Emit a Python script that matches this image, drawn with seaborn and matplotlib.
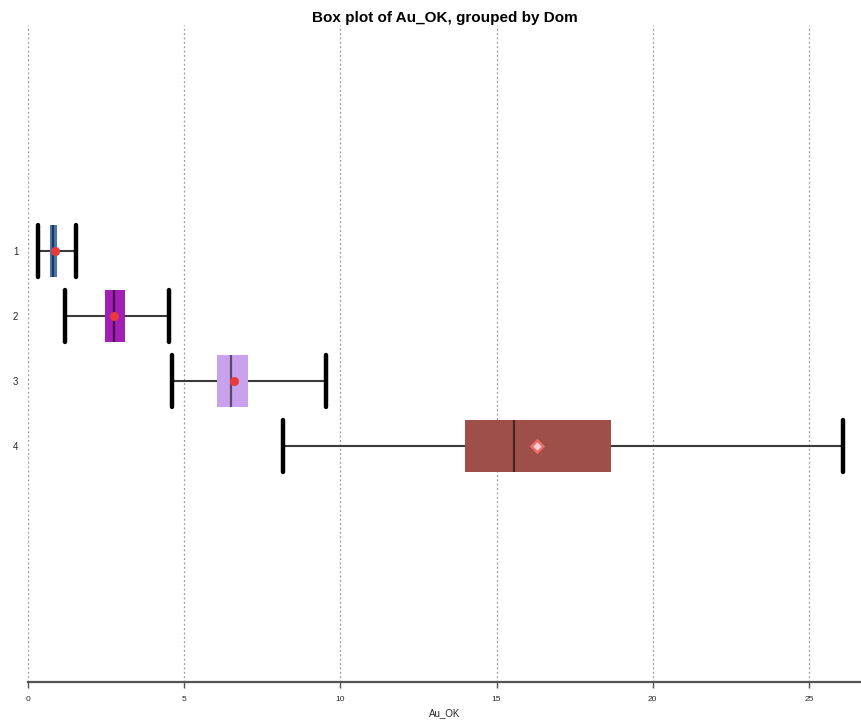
import numpy as np
import pandas as pd
import matplotlib
matplotlib.use("Agg")
import matplotlib.pyplot as plt
import seaborn as sns

# Five-number summaries per domain: lower whisker, Q1, median, Q3, upper whisker
domains = ["1", "2", "3", "4"]
dom1 = [0.33, 0.69, 0.80, 0.92, 1.53]
dom2 = [1.18, 2.47, 2.76, 3.12, 4.50]
dom3 = [4.62, 6.04, 6.50, 7.04, 9.55]
dom4 = [8.15, 13.98, 15.55, 18.67, 26.08]
means = [0.85, 2.76, 6.60, 16.31]

box_colors = ["#4a78b4", "#a21eb4", "#c9a2ee", "#9e5048"]
mean_face = ["#e83a3a", "#e83a3a", "#e83a3a", "#f6d2d2"]
mean_edge = ["#e83a3a", "#e83a3a", "#e83a3a", "#ee6a6a"]

x_ticks = [0, 5, 10, 15, 20, 25]

df = pd.DataFrame({
    "Dom": np.repeat(domains, 5),
    "Au_OK": dom1 + dom2 + dom3 + dom4,
})

sns.set_style("white")
plt.rcParams["font.family"] = ["Liberation Sans", "DejaVu Sans"]

fig = plt.figure(figsize=(8.62, 7.25), dpi=100)
ax = fig.add_axes([0.0325, 0.0593, 0.9675, 0.9062])

sns.boxplot(
    data=df, x="Au_OK", y="Dom", order=domains, hue="Dom", hue_order=domains,
    palette=box_colors, saturation=1, legend=False, orient="h", width=0.8,
    whis=(0, 100), showfliers=False, linewidth=0, ax=ax,
    boxprops=dict(linewidth=0),
    whiskerprops=dict(color="#3a3a3a", linewidth=1.5),
    capprops=dict(color="black", linewidth=3.2),
    medianprops=dict(color="black", alpha=0.55, linewidth=1.6),
    capwidths=0.8,
)

# Mean markers
for i, m in enumerate(means):
    ax.plot(m, i, marker="D" if i == 3 else "o", markersize=6,
            markerfacecolor=mean_face[i], markeredgecolor=mean_edge[i],
            markeredgewidth=1.8 if i == 3 else 0.5, linestyle="none", zorder=5)

ax.set_xlim(0, 26.7)
ax.set_ylim(6.63, -3.48)
ax.set_xticks(x_ticks)
ax.set_xticklabels([str(t) for t in x_ticks], fontsize=6)
ax.tick_params(axis="x", bottom=True, direction="out", length=4, width=1,
               color="#555555", pad=6)
ax.tick_params(axis="y", left=False, length=0, labelsize=7, pad=7)

for t in x_ticks:
    ax.axvline(t, color="#9a9a9a", linestyle=(0, (1.5, 2.0)), linewidth=0.9, zorder=0)

for side in ["top", "right", "left"]:
    ax.spines[side].set_visible(False)
ax.spines["bottom"].set_color("#555555")
ax.spines["bottom"].set_linewidth(1.6)

ax.set_xlabel("Au_OK", fontsize=7, labelpad=4)
ax.set_ylabel("")
ax.set_title("Box plot of Au_OK, grouped by Dom", fontsize=11, fontweight="bold",
             color="black", pad=2)

fig.savefig("out.png", dpi=100)
